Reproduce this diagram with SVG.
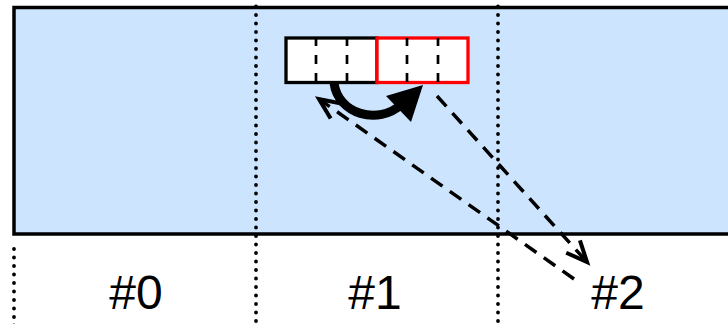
<svg xmlns="http://www.w3.org/2000/svg" width="728" height="324" viewBox="0 0 728 324">
<style>
.dot{stroke:#000;stroke-width:3.8;stroke-linecap:round;stroke-dasharray:0 8.5;fill:none}
.dash{stroke:#000;stroke-width:3.5;stroke-dasharray:14 9;fill:none;marker-end:url(#open)}
.div{stroke:#000;stroke-width:2.7;stroke-dasharray:8 9 9 9 9 9}
.lbl{font-family:"Liberation Sans",Arial,sans-serif;font-size:48px;fill:#000;text-anchor:middle}
</style>
<defs>
<marker id="open" markerUnits="userSpaceOnUse" markerWidth="30" markerHeight="30" refX="0" refY="0" viewBox="-22 -12 26 24" orient="auto" overflow="visible">
<path d="M-18,-8 L0,0 L-18,8" fill="none" stroke="#000" stroke-width="3.5"/>
</marker>
</defs>
<rect width="728" height="324" fill="#fff"/>
<g id="band">
<rect x="14" y="7.5" width="730" height="226.5" fill="#cce4fd" stroke="#000" stroke-width="3.5"/>
</g>
<g id="separators">
<line class="dot" x1="14" y1="249" x2="14" y2="330"/>
<line class="dot" x1="256" y1="6.5" x2="256" y2="330"/>
<line class="dot" x1="498" y1="6.5" x2="498" y2="330"/>
</g>
<g id="array">
<rect x="286" y="38" width="91" height="44.5" fill="#fff" stroke="#000" stroke-width="3.3"/>
<rect x="377" y="38" width="91" height="44.5" fill="#fff" stroke="#f00" stroke-width="3.3"/>
<line class="div" x1="316" y1="38" x2="316" y2="82"/>
<line class="div" x1="347" y1="38" x2="347" y2="82"/>
<line class="div" x1="407" y1="38" x2="407" y2="82"/>
<line class="div" x1="438" y1="38" x2="438" y2="82"/>
</g>
<g id="connectors">
<path d="M334,83 C338,114 378,126 402,104" fill="none" stroke="#000" stroke-width="9"/>
<polygon points="423,85 386,96 411,122" fill="#000"/>
<line class="dash" x1="437" y1="96" x2="587" y2="262"/>
<line class="dash" x1="574" y1="279" x2="319" y2="99"/>
</g>
<g id="labels">
<text class="lbl" x="136" y="309">#0</text>
<text class="lbl" x="375" y="309">#1</text>
<text class="lbl" x="618" y="309">#2</text>
</g>
</svg>
